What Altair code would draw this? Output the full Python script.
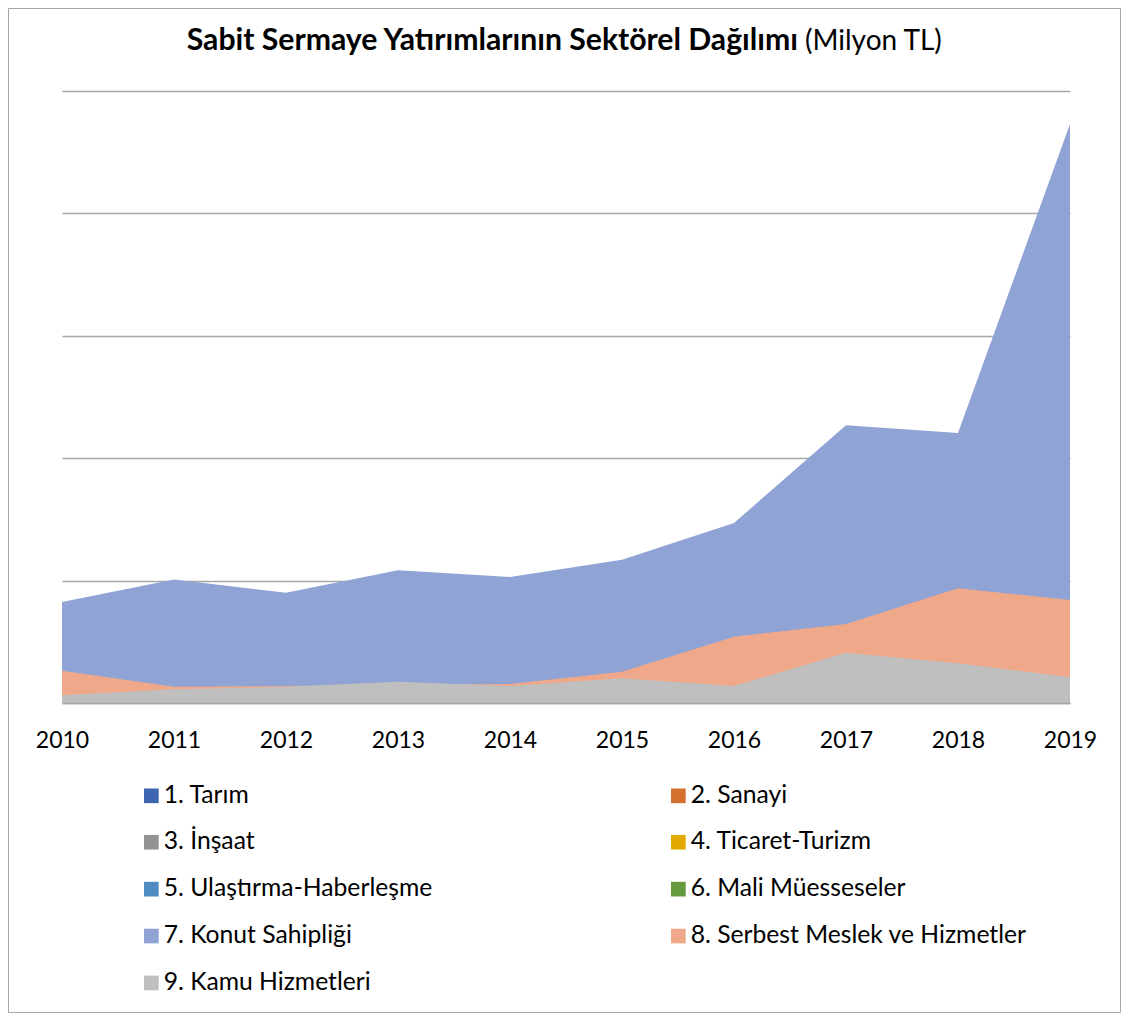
import altair as alt
import pandas as pd

years = list(range(2010, 2020))
sectors = [
    "1. Tarım", "2. Sanayi", "3. İnşaat", "4. Ticaret-Turizm",
    "5. Ulaştırma-Haberleşme", "6. Mali Müesseseler", "7. Konut Sahipliği",
    "8. Serbest Meslek ve Hizmetler", "9. Kamu Hizmetleri",
]
colors = ["#3D65AF", "#D4702D", "#939393", "#E2AA00", "#4E8BC0",
          "#64993D", "#8FA3D4", "#F0A88A", "#BFBFBF"]

konut = [82.5, 101, 90, 108.5, 103, 117, 147, 227, 220.5, 473]
serbest = [26.4, 13.3, 13.9, 15.0, 15.5, 25.6, 54.2, 64.5, 93.7, 84.2]
kamu = [6.3, 11.2, 13.3, 17.4, 13.9, 20.2, 13.9, 41.1, 32.4, 21.2]

title_bold = "Sabit Sermaye Yatırımlarının Sektörel Dağılımı"
title_unit = "(Milyon TL)"

rows = []
for name, vals in [(sectors[6], konut), (sectors[7], serbest), (sectors[8], kamu)]:
    for yr, v in zip(years, vals):
        rows.append({"Yil": yr, "Sektor": name, "Deger": v})
df = pd.DataFrame(rows)

W, H = 1008, 612
PAD_L, PAD_T, PAD_R, PAD_B = 54, 83, 51, 310
FONT = "Lato"

color = alt.Color(
    "Sektor:N",
    scale=alt.Scale(domain=sectors, range=colors),
    legend=alt.Legend(
        title=None, orient="none", legendX=77, legendY=692, columns=2,
        direction="horizontal",
        symbolType="square", symbolSize=215, symbolStrokeWidth=0,
        labelFont=FONT, labelFontSize=24.7, labelColor="#000000",
        labelOffset=0, labelLimit=600, rowPadding=20.9, columnPadding=233,
        padding=0, symbolOpacity=1,
    ),
)
x = alt.X(
    "Yil:Q",
    scale=alt.Scale(domain=[2010, 2019], nice=False, zero=False),
    axis=alt.Axis(
        values=years, format="d", title=None, grid=False, ticks=False, tickSize=0,
        domainColor="#A6A6A6", domainWidth=1.3, labelFont=FONT, labelFontSize=23,
        labelColor="#000000", labelPadding=44, labelBaseline="alphabetic",
        labelFlush=False, labelOverlap=False, zindex=1,
    ),
)
y = alt.Y(
    "Deger:Q",
    scale=alt.Scale(domain=[0, 500], nice=False),
    axis=alt.Axis(
        values=[0, 100, 200, 300, 400, 500], labels=False, ticks=False,
        domain=False, title=None, grid=True, gridColor="#A6A6A6", gridWidth=1.3,
    ),
)


def area_layer(name):
    return (
        alt.Chart(df)
        .transform_filter(alt.datum.Sektor == name)
        .mark_area(opacity=1)
        .encode(x=x, y=y, color=color)
    )


one = alt.Data(values=[{"a": 1}])
border = alt.Chart(one).mark_rect(fillOpacity=0, stroke="#A6A6A6", strokeWidth=1).encode(
    x=alt.value(-PAD_L + 0.5), x2=alt.value(W + PAD_R - 0.5),
    y=alt.value(-PAD_T + 0.5), y2=alt.value(H + PAD_B - 0.5),
)
t1 = alt.Chart(one).mark_text(
    text=title_bold, font=FONT, fontSize=30.2, fontWeight="bold", align="right",
    baseline="alphabetic", color="#000000",
).encode(x=alt.value(736), y=alt.value(-41))
t2 = alt.Chart(one).mark_text(
    text=title_unit, font=FONT, fontSize=28, align="left",
    baseline="alphabetic", color="#000000",
).encode(x=alt.value(743), y=alt.value(-41))

chart = (
    alt.layer(border, area_layer(sectors[6]), area_layer(sectors[7]), area_layer(sectors[8]), t1, t2)
    .properties(
        width=W, height=H,
        autosize=alt.AutoSizeParams(type="none"),
        padding={"left": PAD_L, "top": PAD_T, "right": PAD_R, "bottom": PAD_B},
    )
    .configure_view(stroke=None)
)

chart.save("out.html", embed_options={"renderer": "svg", "actions": False})
